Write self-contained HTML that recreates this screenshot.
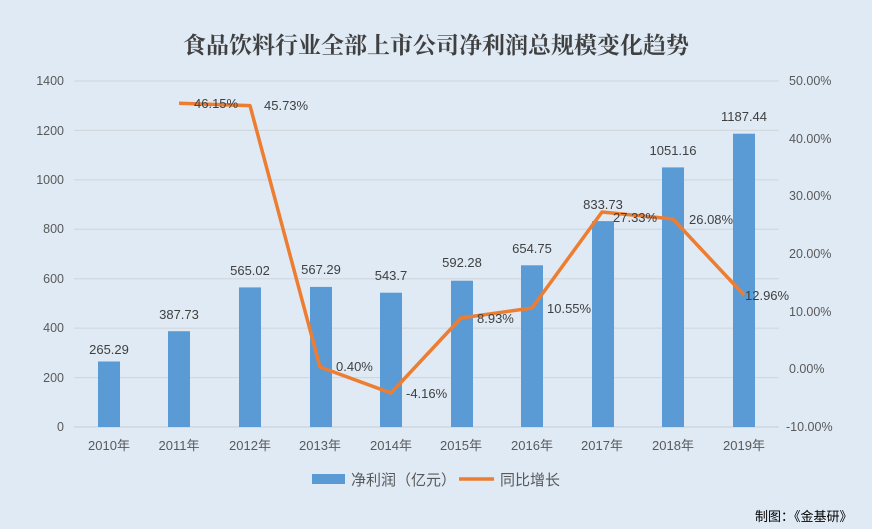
<!DOCTYPE html>
<html><head><meta charset="utf-8"><style>
html,body{margin:0;padding:0;background:#dfeaf5;}
svg{display:block;font-family:"Liberation Sans","Noto Sans CJK SC",sans-serif;}
</style></head><body>
<svg width="872" height="529" xmlns="http://www.w3.org/2000/svg">
<rect width="872" height="529" fill="#dfeaf5"/>
<text x="436" y="53" text-anchor="middle" font-size="23" font-weight="bold" fill="#404040" font-family="'Noto Serif CJK SC','Noto Sans CJK SC',serif">食品饮料行业全部上市公司净利润总规模变化趋势</text>
<g stroke="#d0d4d9" stroke-width="1">
<line x1="74" x2="779" y1="81" y2="81"/><line x1="74" x2="779" y1="130.4" y2="130.4"/>
<line x1="74" x2="779" y1="179.9" y2="179.9"/><line x1="74" x2="779" y1="229.3" y2="229.3"/>
<line x1="74" x2="779" y1="278.7" y2="278.7"/><line x1="74" x2="779" y1="328.1" y2="328.1"/>
<line x1="74" x2="779" y1="377.6" y2="377.6"/><line x1="74" x2="779" y1="427" y2="427" stroke="#c8ccd0"/>
</g>
<g font-size="12.5" fill="#595959" text-anchor="end">
<text x="64" y="85">1400</text><text x="64" y="135">1200</text><text x="64" y="184">1000</text>
<text x="64" y="233">800</text><text x="64" y="283">600</text><text x="64" y="332">400</text>
<text x="64" y="382">200</text><text x="64" y="431">0</text>
</g>
<g font-size="12.5" fill="#595959" text-anchor="start">
<text x="789" y="85">50.00%</text><text x="789" y="143">40.00%</text><text x="789" y="200">30.00%</text>
<text x="789" y="258">20.00%</text><text x="789" y="316">10.00%</text><text x="789" y="373">0.00%</text>
<text x="786" y="431">-10.00%</text>
</g>
<g fill="#5b9bd5">
<rect x="98" y="361.5" width="22" height="65.5"/>
<rect x="168" y="331.2" width="22" height="95.8"/>
<rect x="239" y="287.4" width="22" height="139.6"/>
<rect x="310" y="286.9" width="22" height="140.1"/>
<rect x="380" y="292.7" width="22" height="134.3"/>
<rect x="451" y="280.7" width="22" height="146.3"/>
<rect x="521" y="265.3" width="22" height="161.7"/>
<rect x="592" y="221.1" width="22" height="205.9"/>
<rect x="662" y="167.4" width="22" height="259.6"/>
<rect x="733" y="133.7" width="22" height="293.3"/>
</g>
<g font-size="13" fill="#404040" text-anchor="middle">
<text x="109" y="354">265.29</text><text x="179" y="319">387.73</text>
<text x="250" y="275">565.02</text><text x="321" y="274">567.29</text>
<text x="391" y="280">543.7</text><text x="462" y="267">592.28</text>
<text x="532" y="253">654.75</text><text x="603" y="209">833.73</text>
<text x="673" y="155">1051.16</text><text x="744" y="121">1187.44</text>
</g>
<polyline fill="none" stroke="#ed7d31" stroke-width="3.5" stroke-linejoin="round" points="179,103.2 250,105.6 320,367 391,393 461,318 532,308 602,212 673,219 744,295"/>
<g font-size="13" fill="#404040">
<text x="194" y="108">46.15%</text><text x="264" y="110">45.73%</text>
<text x="336" y="371">0.40%</text><text x="406" y="398">-4.16%</text>
<text x="477" y="323">8.93%</text><text x="547" y="313">10.55%</text>
<text x="613" y="222">27.33%</text><text x="689" y="224">26.08%</text>
<text x="745" y="300">12.96%</text>
</g>
<g font-size="13" fill="#595959" text-anchor="middle">
<text x="109" y="450">2010年</text><text x="179" y="450">2011年</text><text x="250" y="450">2012年</text>
<text x="320" y="450">2013年</text><text x="391" y="450">2014年</text><text x="461" y="450">2015年</text>
<text x="532" y="450">2016年</text><text x="602" y="450">2017年</text><text x="673" y="450">2018年</text>
<text x="744" y="450">2019年</text>
</g>
<rect x="312" y="474" width="33" height="10" fill="#5b9bd5"/>
<text x="351" y="485" font-size="15" fill="#595959">净利润（亿元）</text>
<line x1="459" x2="494" y1="479" y2="479" stroke="#ed7d31" stroke-width="3.5"/>
<text x="500" y="485" font-size="15" fill="#595959">同比增长</text>
<text x="755" y="521" font-size="13" fill="#000">制图：《金基研》</text>
</svg>
</body></html>
